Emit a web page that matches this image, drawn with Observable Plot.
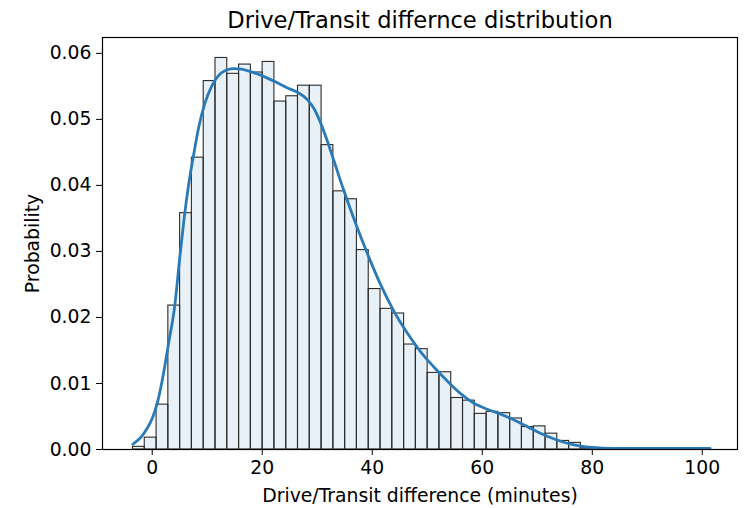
<!DOCTYPE html>
<html>
<head>
<meta charset="utf-8">
<script src="https://cdn.jsdelivr.net/npm/d3@7"></script>
<script src="https://cdn.jsdelivr.net/npm/@observablehq/plot@0.6"></script>
<style>
  html, body { margin: 0; padding: 0; background: #fff; }
  #chart { width: 749px; height: 508px; }
</style>
</head>
<body>
<div id="chart"></div>
<script>
const titleText = "Drive/Transit differnce distribution";
const xLabel = "Drive/Transit difference (minutes)";
const yLabel = "Probability";

const xTicks = [0, 20, 40, 60, 80, 100];
const yTicks = [0, 0.01, 0.02, 0.03, 0.04, 0.05, 0.06];

// histogram bin edges (minutes)
const binEdges = [-3.5, -1.36, 0.79, 2.93, 5.07, 7.21, 9.36, 11.5, 13.64, 15.79,
  17.93, 20.07, 22.21, 24.36, 26.5, 28.64, 30.79, 32.93, 35.07, 37.21,
  39.36, 41.5, 43.64, 45.79, 47.93, 50.07, 52.21, 54.36, 56.5, 58.64,
  60.79, 62.93, 65.07, 67.21, 69.36, 71.5, 73.64, 75.79, 77.93, 80.07,
  82.21, 84.36, 86.5, 88.64, 90.79, 92.93, 95.07, 97.21, 99.36, 101.5];

// probability per bin
const binProb = [0.0004, 0.0018, 0.0068, 0.0218, 0.0358, 0.0442, 0.0558, 0.0593, 0.0569, 0.0583,
  0.0571, 0.0587, 0.0527, 0.0535, 0.0551, 0.0551, 0.0461, 0.0391, 0.0379, 0.0302,
  0.0243, 0.0213, 0.0206, 0.0159, 0.0152, 0.0116, 0.0117, 0.0078, 0.0074, 0.0054,
  0.0057, 0.0055, 0.0047, 0.0034, 0.0035, 0.0024, 0.0013, 0.0010, 0.0002, 0.0001,
  0.0001, 0, 0.0001, 0, 0, 0, 0, 0, 0.0001];

// KDE curve
const kdeX = [-3.5, -2, -1, 0, 1, 2, 3, 4.1, 5, 5.8, 6.6, 7.5, 8.5, 9.6, 10.8, 12, 13.3, 14.8, 16.2, 17.6,
  19.7, 22.1, 24.5, 26.4, 28.2, 29.5, 30.5, 31.8, 33, 34.8, 37, 39.4, 41.5, 43.9, 46.4, 48.8,
  51.2, 53.6, 56, 58.5, 60.9, 62.9, 65.7, 68.8, 71.8, 74.8, 77.9, 80, 84, 90, 101.4];
const kdeY = [0.0008, 0.0019, 0.0031, 0.0047, 0.0073, 0.0113, 0.0162, 0.0218, 0.0290, 0.0350, 0.0400, 0.0445, 0.0490, 0.0525, 0.0550, 0.0566, 0.0574, 0.0577, 0.0576, 0.0573,
  0.0567, 0.0558, 0.0548, 0.0541, 0.0530, 0.0515, 0.0497, 0.0468, 0.0438, 0.0393, 0.0342, 0.0291, 0.0250, 0.0210, 0.0176, 0.0148,
  0.0125, 0.0104, 0.0085, 0.0070, 0.0061, 0.0055, 0.0045, 0.0032, 0.0020, 0.0011, 0.0005, 0.0003, 0.00016, 0.00015, 0.00015];

const bins = binProb.map((p, i) => ({x1: binEdges[i], x2: binEdges[i + 1], p}));
const kde = kdeX.map((x, i) => ({x, y: kdeY[i]}));

const chart = Plot.plot({
  width: 749,
  height: 508,
  marginLeft: 102,
  marginRight: 12,
  marginTop: 37,
  marginBottom: 59,
  style: {fontFamily: "DejaVu Sans", fontSize: "18.8px", color: "#000", background: "#fff"},
  x: {domain: [-9.04, 106.4]},
  y: {domain: [0, 0.0624]},
  marks: [
    Plot.rectY(bins, {x1: "x1", x2: "x2", y: "p", fill: "#1f77b4", fillOpacity: 0.1, stroke: "#2b2b2b", strokeWidth: 1.1}),
    Plot.line(kde, {x: "x", y: "y", stroke: "#2a7ab8", strokeWidth: 2.8, curve: "monotone-x"}),
    Plot.frame({stroke: "#000", strokeWidth: 1.2}),
    Plot.axisX({ticks: xTicks, tickSize: 6, tickPadding: 5, label: null, tickFormat: d3.format("d"), stroke: "#000"}),
    Plot.axisY({ticks: yTicks, tickSize: 6, tickPadding: 5, label: null, tickFormat: d3.format(".2f"), stroke: "#000"}),
    Plot.text([titleText], {frameAnchor: "top", dy: -26, lineAnchor: "top", fontSize: 22.6, fill: "#000"}),
    Plot.text([xLabel], {frameAnchor: "bottom", dy: 39, lineAnchor: "top", fill: "#000"}),
    Plot.text([yLabel], {frameAnchor: "left", dx: -70, rotate: -90, lineAnchor: "middle", textAnchor: "middle", fill: "#000"})
  ]
});
document.getElementById("chart").appendChild(chart);
</script>
</body>
</html>
